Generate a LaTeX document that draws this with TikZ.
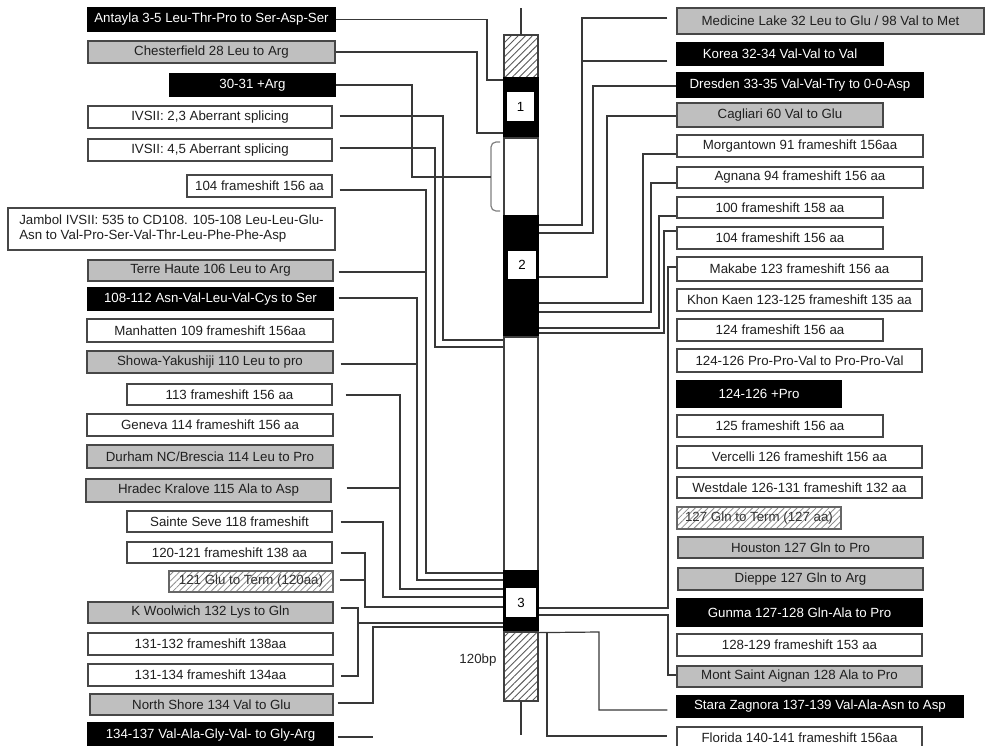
\documentclass[tikz,border=0pt]{standalone}
\usepackage{fontspec}
\setmainfont{Liberation Sans}
\usetikzlibrary{patterns.meta,calc}

% \mutbox{style}{name}{x1}{y1}{x2}{y2}{text}: a box given by its corners (y grows downward)
\newcommand{\mutbox}[7]{%
  \node[#1, minimum width={#5-#3}, minimum height={#6-#4}] (#2) at ({(#3+#5)/2},{(#4+#6)/2}) {#7};}

\begin{document}
\begin{tikzpicture}[x=1pt,y=-1pt,
  lbl/.style={rectangle, inner sep=0pt, line width=1.4pt, font=\fontsize{13.3}{15}\selectfont},
  wbox/.style={lbl, draw=black!72, fill=white, text=black!88},
  gbox/.style={lbl, draw=black!72, fill=black!25, text=black!88},
  kbox/.style={lbl, draw=black, fill=black, text=white},
  hbox/.style={lbl, draw=black!60, pattern={Lines[angle=45,distance=4.5pt,line width=0.8pt]}, pattern color=black!45, text=black!80},
  wire/.style={draw=black!78, line width=1.2pt},
  exonseg/.style={rectangle, draw=black, fill=black, line width=1.2pt, inner sep=0pt},
  intronseg/.style={rectangle, draw=black!75, fill=white, line width=1.2pt, inner sep=0pt},
  utrseg/.style={rectangle, draw=black!75, line width=1.2pt, inner sep=0pt, pattern={Lines[angle=45,distance=5pt,line width=0.9pt]}, pattern color=black!65},
  exnum/.style={rectangle, fill=white, inner sep=0pt, font=\fontsize{13.3}{15}\selectfont},
  brace/.style={draw=black!50, line width=1.2pt, rounded corners=5pt}]
\useasboundingbox (0,0) rectangle (987,745);

% ---------- gene: UTRs, exons and introns ----------
\mutbox{utrseg}{utr5}{504}{35}{538}{78}{}
\mutbox{exonseg}{exon1}{504}{78}{538}{138}{}
\mutbox{intronseg}{ivs1}{504}{138}{538}{216}{}
\mutbox{exonseg}{exon2}{504}{216}{538}{337}{}
\mutbox{intronseg}{ivs2}{504}{337}{538}{571}{}
\mutbox{exonseg}{exon3}{504}{571}{538}{632}{}
\mutbox{utrseg}{utr3}{504}{632}{538}{701}{}
\mutbox{exnum}{n1}{507}{92}{534}{121}{1}
\mutbox{exnum}{n2}{508}{251}{536}{279}{2}
\mutbox{exnum}{n3}{506}{588}{536}{617}{3}
\coordinate (tip5) at (521,8);
\coordinate (tip3) at (521,735);
\draw[wire] (utr5.north) -- (tip5);
\draw[wire] (utr3.south) -- (tip3);
\node[anchor=east, font=\fontsize{13.3}{15}\selectfont, text=black!85] (bp) at (500,660) {120bp};
\draw[brace] (500,142) -- (491,142) -- (491,211) -- (500,211);
\coordinate (brk) at (491,177);

% ---------- mutations, left column ----------
\mutbox{kbox}{antayla}{88}{8}{335}{31}{Antayla 3-5 Leu-Thr-Pro to Ser-Asp-Ser}
\mutbox{gbox}{chesterfield}{88}{41}{335}{63}{Chesterfield 28 Leu to Arg}
\mutbox{kbox}{arg3031}{170}{74}{335}{96}{30-31 +Arg}
\mutbox{wbox}{ivs23}{88}{106}{332}{128}{IVSII: 2,3 Aberrant splicing}
\mutbox{wbox}{ivs45}{88}{139}{332}{161}{IVSII: 4,5 Aberrant splicing}
\mutbox{wbox}{fsL104}{187}{175}{332}{197}{104 frameshift 156 aa}
\mutbox{wbox,align=left}{jambol}{8}{208}{335}{250}{Jambol IVSII: 535 to CD108. 105-108 Leu-Leu-Glu-\\Asn to Val-Pro-Ser-Val-Thr-Leu-Phe-Phe-Asp}
\mutbox{gbox}{terre}{88}{260}{333}{281}{Terre Haute 106 Leu to Arg}
\mutbox{kbox}{asn108}{88}{288}{333}{310}{108-112 Asn-Val-Leu-Val-Cys to Ser}
\mutbox{wbox}{manhatten}{87}{319}{333}{342}{Manhatten 109 frameshift 156aa}
\mutbox{gbox}{showa}{87}{351}{333}{373}{Showa-Yakushiji 110 Leu to pro}
\mutbox{wbox}{fs113}{127}{384}{332}{405}{113 frameshift 156 aa}
\mutbox{wbox}{geneva}{87}{414}{333}{436}{Geneva 114 frameshift 156 aa}
\mutbox{gbox}{durham}{87}{445}{333}{468}{Durham NC/Brescia 114 Leu to Pro}
\mutbox{gbox}{hradec}{86}{479}{331}{502}{Hradec Kralove 115 Ala to Asp}
\mutbox{wbox}{sainte}{127}{511}{332}{532}{Sainte Seve 118 frameshift}
\mutbox{wbox}{fs120}{127}{542}{332}{563}{120-121 frameshift 138 aa}
\mutbox{hbox}{glu121}{169}{571}{333}{592}{121 Glu to Term (120aa)}
\mutbox{gbox}{woolwich}{88}{602}{333}{623}{K Woolwich 132 Lys to Gln}
\mutbox{wbox}{fs131a}{88}{633}{333}{655}{131-132 frameshift 138aa}
\mutbox{wbox}{fs131b}{88}{664}{333}{686}{131-134 frameshift 134aa}
\mutbox{gbox}{northshore}{90}{694}{333}{715}{North Shore 134 Val to Glu}
\mutbox{kbox}{val134}{88}{723}{333}{747}{134-137 Val-Ala-Gly-Val- to Gly-Arg}

% ---------- mutations, right column ----------
\mutbox{gbox}{medlake}{677}{8}{984}{34}{Medicine Lake 32 Leu to Glu / 98 Val to Met}
\mutbox{kbox}{korea}{677}{43}{883}{65}{Korea 32-34 Val-Val to Val}
\mutbox{kbox}{dresden}{677}{73}{923}{97}{Dresden 33-35 Val-Val-Try to 0-0-Asp}
\mutbox{gbox}{cagliari}{677}{103}{883}{127}{Cagliari 60 Val to Glu}
\mutbox{wbox}{morgantown}{677}{135}{923}{157}{Morgantown 91 frameshift 156aa}
\mutbox{wbox}{agnana}{677}{167}{923}{188}{Agnana 94 frameshift 156 aa}
\mutbox{wbox}{fsR100}{677}{197}{883}{218}{100 frameshift 158 aa}
\mutbox{wbox}{fsR104}{677}{227}{883}{249}{104 frameshift 156 aa}
\mutbox{wbox}{makabe}{677}{257}{922}{281}{Makabe 123 frameshift 156 aa}
\mutbox{wbox}{khonkaen}{677}{289}{922}{311}{Khon Kaen 123-125 frameshift 135 aa}
\mutbox{wbox}{fs124}{677}{319}{883}{341}{124 frameshift 156 aa}
\mutbox{wbox}{ppv124}{677}{349}{922}{372}{124-126 Pro-Pro-Val to Pro-Pro-Val}
\mutbox{kbox}{pro124}{677}{381}{841}{407}{124-126 +Pro}
\mutbox{wbox}{fs125}{677}{415}{883}{437}{125 frameshift 156 aa}
\mutbox{wbox}{vercelli}{677}{446}{922}{468}{Vercelli 126 frameshift 156 aa}
\mutbox{wbox}{westdale}{677}{477}{922}{498}{Westdale 126-131 frameshift 132 aa}
\mutbox{hbox}{gln127}{677}{507}{841}{529}{127 Gln to Term (127 aa)}
\mutbox{gbox}{houston}{678}{537}{923}{558}{Houston 127 Gln to Pro}
\mutbox{gbox}{dieppe}{678}{568}{923}{590}{Dieppe 127 Gln to Arg}
\mutbox{kbox}{gunma}{677}{599}{922}{626}{Gunma 127-128 Gln-Ala to Pro}
\mutbox{wbox}{fs128}{677}{634}{922}{656}{128-129 frameshift 153 aa}
\mutbox{gbox}{montsaint}{677}{666}{922}{687}{Mont Saint Aignan 128 Ala to Pro}
\mutbox{kbox}{stara}{677}{696}{963}{717}{Stara Zagnora 137-139 Val-Ala-Asn to Asp}
\mutbox{wbox}{florida}{677}{727}{922}{748}{Florida 140-141 frameshift 156aa}

% ---------- junctions where two wires merge ----------
\coordinate (jl104) at (426,272);
\coordinate (jl108) at (417,364);
\coordinate (jl113) at (400,488);
\coordinate (jl120) at (365,580);
\coordinate (jlkw) at (358,623);
\coordinate (jl134) at (373,737);
\coordinate (jrml) at (582,61);
\coordinate (jrst) at (547,632);

% ---------- left wiring ----------
\draw[wire] (antayla.east) -| (487,80) -- (exon1.west |- 0,80);
\draw[wire] (chesterfield.east) -| (477,133) -- (exon1.west |- 0,133);
\draw[wire] (arg3031.east) -| (412,177) -- (brk);
\draw[wire] ($(ivs23.east)+(7,-1)$) -| (443,340) -- (ivs2.west |- 0,340);
\draw[wire] ($(ivs45.east)+(7,-2)$) -| (435,347) -- (ivs2.west |- 0,347);
\draw[wire] ($(fsL104.east)+(7,4)$) -| (426,573) -- (exon3.west |- 0,573);
\draw[wire] ($(terre.east)+(5,1.5)$) -- (jl104);
\draw[wire] ($(asn108.east)+(5,-1)$) -| (417,580) -- (exon3.west |- 0,580);
\draw[wire] ($(showa.east)+(7,2)$) -- (jl108);
\draw[wire] ($(fs113.east)+(13,0.5)$) -| (400,589) -- (exon3.west |- 0,589);
\draw[wire] ($(hradec.east)+(15,-2.5)$) -- (jl113);
\draw[wire] ($(sainte.east)+(8,0.5)$) -| (383,597) -- (exon3.west |- 0,597);
\draw[wire] ($(fs120.east)+(8,0.5)$) -| (365,607) -- (exon3.west |- 0,607);
\draw[wire] ($(glu121.east)+(7,-1.5)$) -- (jl120);
\draw[wire] ($(woolwich.east)+(7,-4.5)$) -| (358,676) -- ($(fs131b.east)+(7,1)$);
\draw[wire] (jlkw) -- (exon3.west |- 0,623);
\draw[wire] ($(northshore.east)+(4,-1.5)$) -| (373,627) -- (exon3.west |- 0,627);
\draw[wire] ($(val134.east)+(4,2)$) -- (jl134);

% ---------- right wiring ----------
\draw[wire] ($(medlake.west)+(-9,-3)$) -| (582,225) -- (exon2.east |- 0,225);
\draw[wire] ($(korea.west)+(-9,7)$) -- (jrml);
\draw[wire] ($(dresden.west)+(0,1)$) -| (593,233) -- (exon2.east |- 0,233);
\draw[wire] ($(cagliari.west)+(0,1)$) -| (607,277) -- (exon2.east |- 0,277);
\draw[wire] ($(morgantown.west)+(0,8)$) -| (643,303) -- (exon2.east |- 0,303);
\draw[wire] ($(agnana.west)+(0,5.5)$) -| (651,312) -- (exon2.east |- 0,312);
\draw[wire] ($(fsR100.west)+(0,8.5)$) -| (659,328) -- (exon2.east |- 0,328);
\draw[wire] ($(fsR104.west)+(0,-7)$) -| (664,333) -- (exon2.east |- 0,333);
\draw[wire] ($(makabe.west)+(0,-2)$) -| (668,608) -- (exon3.east |- 0,608);
\draw[wire] ($(montsaint.west)+(0,-1.5)$) -| (668,615) -- (exon3.east |- 0,615);
\draw[wire] (exon3.south east) -- (599,632) |- ($(stara.west)+(-9,3.5)$);
\draw[wire] (jrst) |- ($(florida.west)+(-9,-1.5)$);
\end{tikzpicture}
\end{document}
